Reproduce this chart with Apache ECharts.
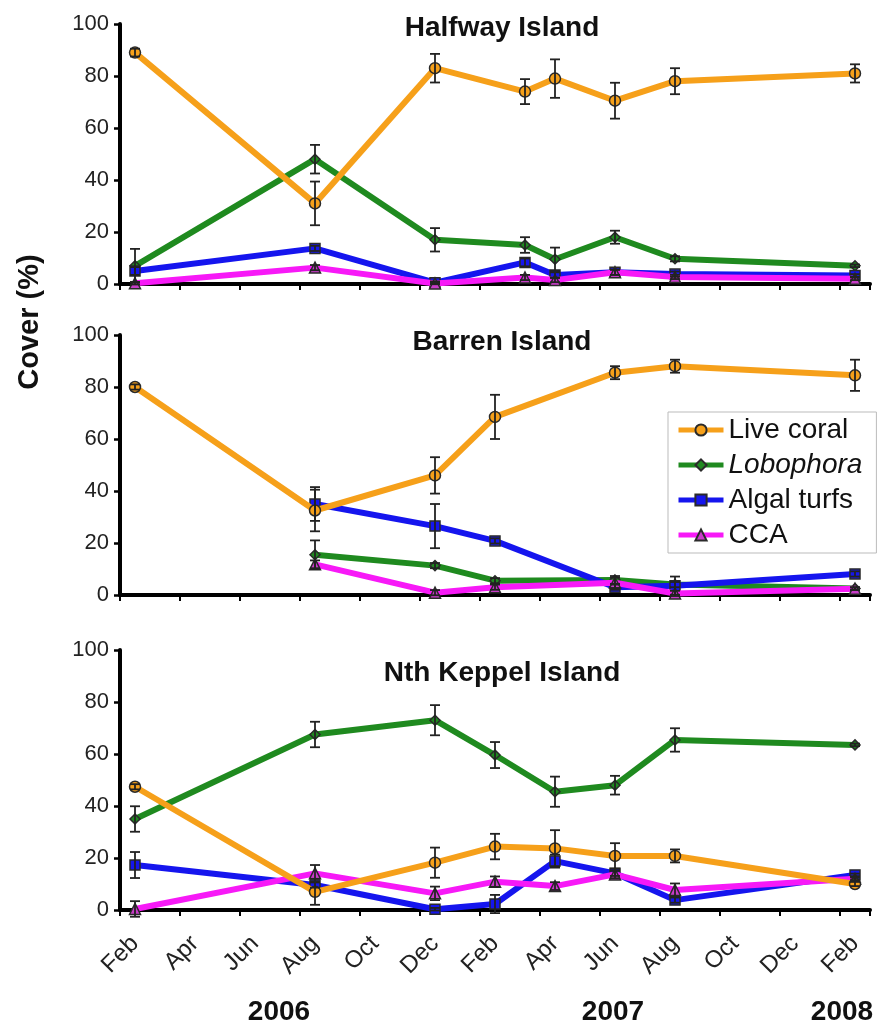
<!DOCTYPE html>
<html><head><meta charset="utf-8">
<script src="https://cdn.jsdelivr.net/npm/echarts@6/dist/echarts.min.js"></script>
<style>html,body{margin:0;padding:0;background:#fff}#c{width:877px;height:1025px}</style>
</head><body><div id="c"></div>
<script>
// ---------- data ----------
const seriesNames = ['Live coral', 'Lobophora', 'Algal turfs', 'CCA'];
const siteNames = ['Halfway Island', 'Barren Island', 'Nth Keppel Island'];
const monthLabels = ['Feb','Mar','Apr','May','Jun','Jul','Aug','Sep','Oct','Nov','Dec','Jan',
                     'Feb','Mar','Apr','May','Jun','Jul','Aug','Sep','Oct','Nov','Dec','Jan','Feb'];
const yearLabels = ['2006', '2007', '2008'];

// Halfway Island
const halfwayDates = ['2006-02','2006-08','2006-12','2007-03','2007-04','2007-06','2007-08','2008-02'];
const halfwayCoral = [89, 31, 83, 74, 79, 70.5, 78, 81];
const halfwayCoralSE = [1.5, 8.4, 5.5, 4.8, 7.4, 6.9, 5, 3.5];
const halfwayLobo = [7, 48, 17, 15, 9.5, 18, 9.7, 7];
const halfwayLoboSE = [6.5, 5.5, 4.5, 3, 4.5, 2.5, 1, 0.5];
const halfwayTurf = [5, 13.7, 0.5, 8.3, 3.5, 4.5, 3.8, 3.3];
const halfwayTurfSE = [1.5, 1, 0.5, 1.5, 1, 1, 1, 0.5];
const halfwayCCA = [0.3, 6.3, 0.2, 2.5, 1.5, 4.5, 2.7, 2];
const halfwayCCASE = [0.5, 1, 0.3, 1, 0.8, 1, 0.8, 0.5];

// Barren Island
const barrenDates = ['2006-02','2006-08','2006-12','2007-02','2007-06','2007-08','2008-02'];
const barrenCoral = [80, 32.5, 46, 68.5, 85.5, 88, 84.5];
const barrenCoralSE = [1, 8, 7, 8.5, 2.5, 2.5, 6];
const barrenLobo = [null, 15.5, 11.3, 5.5, 5.8, 4, 2.5];
const barrenLoboSE = [null, 5.5, 1, 1, 1.5, 1, 0.5];
const barrenTurf = [null, 35, 26.5, 20.8, 3, 3.6, 8.1];
const barrenTurfSE = [null, 6.5, 8.5, 1, 1, 3.5, 1];
const barrenCCA = [null, 11.8, 0.9, 3, 4.7, 0.6, 2.4];
const barrenCCASE = [null, 1.5, 1, 1, 2, 1, 0.5];

// Nth Keppel Island
const keppelDates = ['2006-02','2006-08','2006-12','2007-02','2007-04','2007-06','2007-08','2008-02'];
const keppelCoral = [47.4, 7, 18.2, 24.4, 23.7, 20.8, 20.8, 10];
const keppelCoralSE = [1, 5, 5.8, 4.9, 7, 4.9, 2.5, 0.8];
const keppelLobo = [35, 67.5, 73, 59.6, 45.5, 48, 65.4, 63.5];
const keppelLoboSE = [4.9, 4.9, 5.8, 5, 5.8, 3.6, 4.5, 0.5];
const keppelTurf = [17.3, 9.6, 0.3, 2.3, 18.8, 14.1, 3.8, 13.5];
const keppelTurfSE = [5, 1, 0.5, 3.5, 2.5, 1, 1, 0.5];
const keppelCCA = [0.4, 14.1, 6.4, 10.9, 9.2, 13.7, 7.7, 12];
const keppelCCASE = [3, 3.2, 2.6, 2, 1.5, 1.5, 2.5, 0.5];

// ---------- styling ----------
const FONT = '"Liberation Sans", Arial, sans-serif';
const colors = ['#F6A01A', '#1F8A1F', '#1515EE', '#F719F7'];
const symbolFill = ['#F6A01A', '#1F8A1F', '#1515EE', '#C83CC8'];
const symbols = ['circle', 'diamond', 'rect', 'triangle'];
const symbolSizes = [11, 10, 10, 11];
const zOrder = [5, 2, 3, 4];

// months since 1 Feb 2006, plotted mid-month
function toX(d) {
  const [y, m] = d.split('-').map(Number);
  return (y - 2006) * 12 + (m - 2) + 0.5;
}

const sites = [
  {dates: halfwayDates, vals: [halfwayCoral, halfwayLobo, halfwayTurf, halfwayCCA],
   errs: [halfwayCoralSE, halfwayLoboSE, halfwayTurfSE, halfwayCCASE]},
  {dates: barrenDates, vals: [barrenCoral, barrenLobo, barrenTurf, barrenCCA],
   errs: [barrenCoralSE, barrenLoboSE, barrenTurfSE, barrenCCASE]},
  {dates: keppelDates, vals: [keppelCoral, keppelLobo, keppelTurf, keppelCCA],
   errs: [keppelCoralSE, keppelLoboSE, keppelTurfSE, keppelCCASE]}
];

const gridTops = [24, 335, 650];
const gridH = 260;

const grids = gridTops.map(t => ({left: 120, width: 750, top: t, height: gridH, containLabel: false}));

const xAxes = gridTops.map((t, i) => ({
  type: 'value', gridIndex: i, min: 0, max: 25, interval: 2,
  axisLine: {show: true, onZero: false, lineStyle: {color: '#000', width: 4}},
  axisTick: {show: true, length: 6, lineStyle: {color: '#000', width: 2}},
  axisLabel: {show: false}, splitLine: {show: false}
}));
// label-only category axis for the bottom panel (labels centred on the months)
xAxes.push({
  type: 'category', gridIndex: 2, data: monthLabels, boundaryGap: true, position: 'bottom',
  axisLine: {show: false}, axisTick: {show: false}, splitLine: {show: false},
  axisLabel: {interval: 1, rotate: 45, fontSize: 24, margin: 30, color: '#222', fontFamily: FONT}
});

const yAxes = gridTops.map((t, i) => ({
  type: 'value', gridIndex: i, min: 0, max: 100, interval: 20,
  axisLine: {show: true, onZero: false, lineStyle: {color: '#000', width: 4}},
  axisTick: {show: true, length: 6, lineStyle: {color: '#000', width: 2.5}},
  axisLabel: {fontSize: 22, margin: 11, color: '#222', fontFamily: FONT},
  splitLine: {show: false}
}));

const series = [];
sites.forEach((s, gi) => {
  seriesNames.forEach((name, si) => {
    const data = [];
    s.dates.forEach((d, k) => { if (s.vals[si][k] != null) data.push([toX(d), s.vals[si][k]]); });
    series.push({
      type: 'line', name, xAxisIndex: gi, yAxisIndex: gi, data, z: zOrder[si],
      symbol: symbols[si], symbolSize: symbolSizes[si], showSymbol: true,
      lineStyle: {color: colors[si], width: 6},
      itemStyle: {color: symbolFill[si], borderColor: '#2a2a2a', borderWidth: 1.5},
      emphasis: {disabled: true}, animation: false
    });
    const edata = [];
    s.dates.forEach((d, k) => {
      if (s.vals[si][k] != null && s.errs[si][k] != null) edata.push([toX(d), s.vals[si][k], s.errs[si][k]]);
    });
    series.push({
      type: 'custom', xAxisIndex: gi, yAxisIndex: gi, z: 6, silent: true, animation: false,
      data: edata, encode: {x: 0, y: 1},
      renderItem(params, api) {
        const x = api.value(0), y = api.value(1), e = api.value(2);
        const top = api.coord([x, y + e]);
        const bot = api.coord([x, y - e]);
        const hw = 5;
        const st = {stroke: '#222', lineWidth: 1.8};
        return {type: 'group', children: [
          {type: 'line', shape: {x1: top[0], y1: top[1], x2: bot[0], y2: bot[1]}, style: st},
          {type: 'line', shape: {x1: top[0] - hw, y1: top[1], x2: top[0] + hw, y2: top[1]}, style: st},
          {type: 'line', shape: {x1: bot[0] - hw, y1: bot[1], x2: bot[0] + hw, y2: bot[1]}, style: st}
        ]};
      }
    });
  });
});

const graphics = [];
const titleY = [28, 342, 673];
siteNames.forEach((n, i) => graphics.push({
  type: 'text', x: 502, y: titleY[i], z: 10,
  style: {text: n, font: 'bold 28px ' + FONT, fill: '#111', align: 'center', verticalAlign: 'middle'}
}));
graphics.push({
  type: 'text', x: 30, y: 322, rotation: Math.PI / 2, z: 10,
  style: {text: 'Cover (%)', font: 'bold 29px ' + FONT, fill: '#111', align: 'center', verticalAlign: 'middle'}
});
const yearX = [279, 613, 842];
yearLabels.forEach((t, i) => graphics.push({
  type: 'text', x: yearX[i], y: 1012, z: 10,
  style: {text: t, font: 'bold 28px ' + FONT, fill: '#111', align: 'center', verticalAlign: 'middle'}
}));

const chart = echarts.init(document.getElementById('c'), null, {renderer: 'canvas'});
chart.setOption({
  backgroundColor: '#fff',
  animation: false,
  grid: grids,
  xAxis: xAxes,
  yAxis: yAxes,
  legend: {
    data: seriesNames, orient: 'vertical', left: 668, top: 412,
    backgroundColor: '#fff', borderColor: '#bbb', borderWidth: 1,
    padding: [4, 14, 4, 8], itemGap: 7, itemWidth: 45, itemHeight: 14,
    selectedMode: false,
    lineStyle: {width: 5},
    formatter: n => n === 'Lobophora' ? '{i|Lobophora}' : n,
    textStyle: {fontSize: 28, color: '#111', fontFamily: FONT,
      rich: {i: {fontStyle: 'italic', fontSize: 28, color: '#111', fontFamily: FONT}}}
  },
  graphic: graphics,
  series
});
</script>
</body></html>
